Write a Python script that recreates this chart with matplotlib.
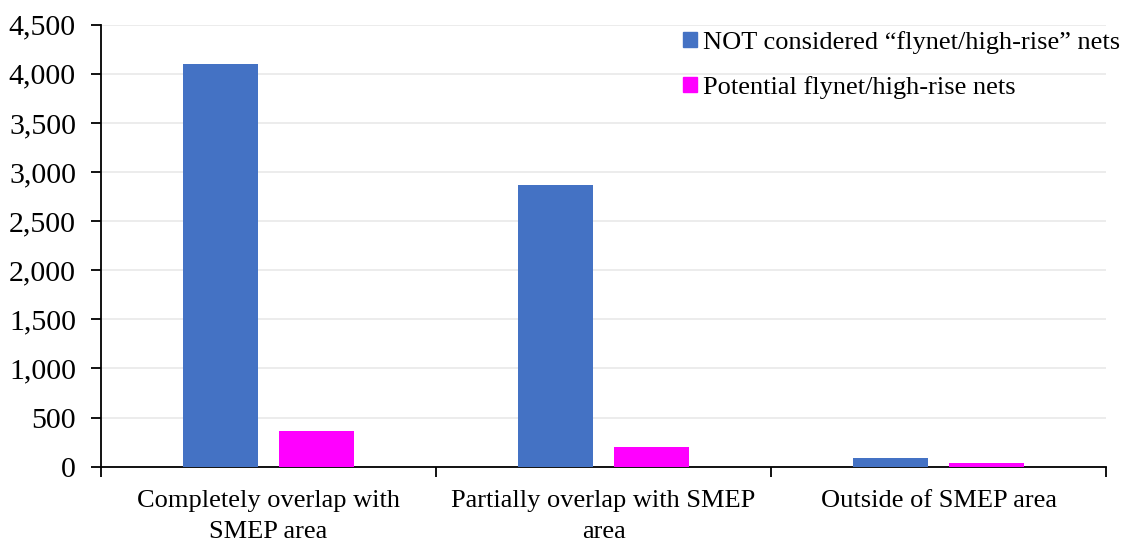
import matplotlib
matplotlib.use("Agg")
import matplotlib.pyplot as plt
from matplotlib.patches import Patch
from matplotlib.ticker import FuncFormatter, FixedLocator

categories = ["Completely overlap with\nSMEP area",
              "Partially overlap with SMEP\narea",
              "Outside of SMEP area"]
not_considered = [4100, 2870, 92]
potential = [365, 200, 35]
series_names = ["NOT considered \u201cflynet/high-rise\u201d nets",
                "Potential flynet/high-rise nets"]
yticks = [0, 500, 1000, 1500, 2000, 2500, 3000, 3500, 4000, 4500]

blue = "#4472C4"
magenta = "#FF00FF"

plt.rcParams["font.family"] = ["Liberation Serif", "DejaVu Serif"]

fig = plt.figure(figsize=(11.27, 5.42), dpi=100)
ax = fig.add_axes([0.0896, 0.139, 0.8918, 0.8155])

x = list(range(len(categories)))
w = 0.225
off = 0.1425
ax.bar([i - off for i in x], not_considered, width=w, color=blue, zorder=3)
ax.bar([i + off for i in x], potential, width=w, color=magenta, zorder=3)

ax.set_xlim(-0.5, len(categories) - 0.5)
ax.set_ylim(0, 4500)
ax.set_yticks(yticks)
ax.yaxis.set_major_formatter(FuncFormatter(lambda v, p: f"{int(v):,}"))
ax.grid(axis="y", color="#e9e9e9", linewidth=1.2, zorder=0)

ax.xaxis.set_major_locator(FixedLocator([i - 0.5 for i in range(len(categories) + 1)]))
ax.xaxis.set_major_formatter(FuncFormatter(lambda v, p: ""))
ax.set_xticks(x, minor=True)
ax.set_xticklabels(categories, minor=True, fontsize=19, linespacing=1.5)
ax.tick_params(axis="x", which="minor", length=0, pad=17)
ax.tick_params(axis="x", which="major", length=7, width=1.3, direction="out")
ax.tick_params(axis="y", length=7, width=1.3, labelsize=21.5, pad=11)

for s in ["top", "right"]:
    ax.spines[s].set_visible(False)
for s in ["left", "bottom"]:
    ax.spines[s].set_linewidth(1.3)
    ax.spines[s].set_color("black")

handles = [Patch(color=blue), Patch(color=magenta)]
fig.legend(handles, series_names, loc="upper left",
           bbox_to_anchor=(683 / 1127, 1 - 31 / 542), frameon=False,
           fontsize=19, handlelength=0.52, handleheight=0.52,
           handletextpad=0.25, labelspacing=0.82, borderpad=0, borderaxespad=0)

fig.savefig("out.png", dpi=100)
